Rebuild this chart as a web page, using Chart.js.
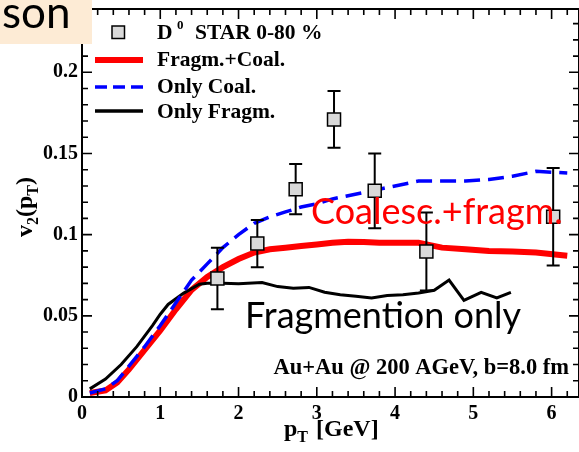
<!DOCTYPE html>
<html>
<head>
<meta charset="utf-8">
<script src="https://cdn.jsdelivr.net/npm/chart.js@4.4.0/dist/chart.umd.min.js"></script>
<style>
html, body { margin: 0; padding: 0; background: #fff; }
</style>
</head>
<body>
<canvas id="v2" width="579" height="452"></canvas>
<script>
// STAR D0 v2, 0-80 %
const starPt  = [1.73, 2.24, 2.73, 3.22, 3.74, 4.40, 6.02];
const starV2  = [0.073, 0.0945, 0.128, 0.171, 0.127, 0.0896, 0.111];
const starErr = [0.019, 0.0145, 0.0155, 0.0175, 0.023, 0.024, 0.030];

// Fragm.+Coal.
const ptBoth = [0.1, 0.3, 0.45, 0.6, 0.8, 1.0, 1.2, 1.4, 1.6, 1.8, 2.0, 2.2, 2.4, 2.6, 2.8, 3.0, 3.2, 3.4, 3.6, 3.8, 4.0, 4.3, 4.6, 4.9, 5.2, 5.5, 5.8, 6.2];
const v2Both = [0.0025, 0.004, 0.009, 0.017, 0.029, 0.041, 0.054, 0.066, 0.074, 0.080, 0.085, 0.089, 0.091, 0.092, 0.093, 0.094, 0.095, 0.0957, 0.0955, 0.095, 0.095, 0.095, 0.092, 0.091, 0.090, 0.0896, 0.089, 0.087];

// Only Coal.
const ptCoal = [0.1, 0.3, 0.45, 0.6, 0.8, 1.0, 1.2, 1.4, 1.6, 1.8, 2.0, 2.2, 2.4, 2.6, 2.8, 3.0, 3.2, 3.4, 3.6, 3.8, 4.0, 4.3, 4.6, 4.9, 5.2, 5.5, 5.8, 6.2];
const v2Coal = [0.0025, 0.005, 0.010, 0.019, 0.031, 0.044, 0.058, 0.072, 0.082, 0.092, 0.100, 0.107, 0.111, 0.114, 0.117, 0.119, 0.122, 0.124, 0.126, 0.128, 0.130, 0.133, 0.133, 0.133, 0.134, 0.136, 0.139, 0.138];

// Only Fragm.
const ptFrag = [0.1, 0.3, 0.5, 0.7, 0.9, 1.0, 1.1, 1.3, 1.5, 1.6, 1.8, 2.0, 2.3, 2.5, 2.7, 2.9, 3.1, 3.3, 3.5, 3.7, 3.9, 4.1, 4.3, 4.5, 4.69, 4.88, 5.1, 5.3, 5.48];
const v2Frag = [0.005, 0.011, 0.020, 0.031, 0.044, 0.051, 0.057, 0.064, 0.0695, 0.070, 0.070, 0.0698, 0.0705, 0.068, 0.067, 0.0675, 0.0645, 0.063, 0.062, 0.061, 0.0625, 0.063, 0.064, 0.0657, 0.072, 0.0595, 0.0645, 0.061, 0.0645];

const xTicks = [0, 1, 2, 3, 4, 5, 6];
const yTicks = [0, 0.05, 0.1, 0.15, 0.2];

const SERIF = '"Liberation Serif", "Times New Roman", serif';
const toXY = (xs, ys) => xs.map((x, i) => ({ x: x, y: ys[i] }));

// keep the plot box fixed: no extra room for overhanging tick labels
const noPad = s => { s.paddingLeft = s.paddingRight = s.paddingTop = s.paddingBottom = 0; };

const decorations = {
    id: 'decorations',
    beforeDatasetDraw(chart, args) {
        if (args.index !== 0) return;
        // error bars sit under the squares
        const ctx = chart.ctx;
        const xs = chart.scales.x, ys = chart.scales.y;
        ctx.save();
        ctx.strokeStyle = '#000';
        ctx.lineWidth = 2;
        starPt.forEach((pt, i) => {
            const px = xs.getPixelForValue(pt);
            const hi = ys.getPixelForValue(starV2[i] + starErr[i]);
            const lo = ys.getPixelForValue(starV2[i] - starErr[i]);
            ctx.beginPath();
            ctx.moveTo(px, hi); ctx.lineTo(px, lo);
            ctx.moveTo(px - 6.5, hi); ctx.lineTo(px + 6.5, hi);
            ctx.moveTo(px - 6.5, lo); ctx.lineTo(px + 6.5, lo);
            ctx.stroke();
        });
        ctx.restore();
    },
    afterDraw(chart) {
        const ctx = chart.ctx;
        const a = chart.chartArea;
        const xs = chart.scales.x, ys = chart.scales.y;
        ctx.save();

        // frame with inward ticks on all four sides
        ctx.strokeStyle = '#000';
        ctx.lineWidth = 2;
        ctx.strokeRect(a.left, a.top, a.right - a.left, a.bottom - a.top);
        ctx.lineWidth = 1.6;
        ctx.beginPath();
        for (let i = 0; i <= 31; i++) {
            const px = xs.getPixelForValue(i * 0.2);
            const len = i % 5 === 0 ? 10 : 6;
            ctx.moveTo(px, a.bottom); ctx.lineTo(px, a.bottom - len);
            ctx.moveTo(px, a.top); ctx.lineTo(px, a.top + len);
        }
        for (let i = 0; i <= 23; i++) {
            const py = ys.getPixelForValue(i * 0.01);
            const len = i % 5 === 0 ? 10 : 6;
            ctx.moveTo(a.left, py); ctx.lineTo(a.left + len, py);
            ctx.moveTo(a.right, py); ctx.lineTo(a.right - len, py);
        }
        ctx.stroke();

        // axis titles
        ctx.fillStyle = '#000';
        ctx.textBaseline = 'alphabetic';
        ctx.textAlign = 'left';
        const big = 'bold 24px ' + SERIF, small = 'bold 16px ' + SERIF;
        let x = 284;
        const by = 436;
        ctx.font = big; ctx.fillText('p', x, by); x += ctx.measureText('p').width;
        ctx.font = small; ctx.fillText('T', x, by + 6); x += ctx.measureText('T').width + 8;
        ctx.font = big; ctx.fillText('[GeV]', x, by);

        ctx.save();
        ctx.translate(32, 237);
        ctx.rotate(-Math.PI / 2);
        let t = 0;
        ctx.font = big; ctx.fillText('v', t, 0); t += ctx.measureText('v').width;
        ctx.font = small; ctx.fillText('2', t, 6); t += ctx.measureText('2').width;
        ctx.font = big; ctx.fillText('(p', t, 0); t += ctx.measureText('(p').width;
        ctx.font = small; ctx.fillText('T', t, 6); t += ctx.measureText('T').width;
        ctx.font = big; ctx.fillText(')', t, 0);
        ctx.restore();

        // legend
        ctx.fillStyle = '#d9d9d9';
        ctx.fillRect(112, 26, 12.5, 12.5);
        ctx.lineWidth = 1.5;
        ctx.strokeRect(112, 26, 12.5, 12.5);
        ctx.fillStyle = '#000';
        ctx.font = 'bold 21.5px ' + SERIF;
        ctx.fillText('D', 157, 39);
        ctx.font = 'bold 13px ' + SERIF;
        ctx.fillText('0', 177, 29);
        ctx.font = 'bold 21.5px ' + SERIF;
        ctx.fillText('STAR 0-80 %', 195, 39);
        ctx.fillText('Fragm.+Coal.', 157, 66);
        ctx.fillText('Only Coal.', 157, 93);
        ctx.fillText('Only Fragm.', 157, 118);

        ctx.lineCap = 'butt';
        ctx.strokeStyle = '#ff0000'; ctx.lineWidth = 6;
        ctx.beginPath(); ctx.moveTo(95, 60); ctx.lineTo(143, 60); ctx.stroke();
        ctx.strokeStyle = '#0000ff'; ctx.lineWidth = 3.5;
        ctx.setLineDash([12, 6]);
        ctx.beginPath(); ctx.moveTo(95, 87); ctx.lineTo(143, 87); ctx.stroke();
        ctx.setLineDash([]);
        ctx.strokeStyle = '#000'; ctx.lineWidth = 3.5;
        ctx.beginPath(); ctx.moveTo(95, 111); ctx.lineTo(143, 111); ctx.stroke();

        // collision system
        ctx.textAlign = 'right';
        ctx.font = 'bold 22.5px ' + SERIF;
        ctx.fillText('Au+Au @ 200 AGeV, b=8.0 fm', 569, 374);

        // slide annotations
        ctx.textAlign = 'left';
        ctx.font = '36px Lato, sans-serif';
        ctx.fillStyle = '#ff0000';
        ctx.fillText('Coalesc.+fragm.', 311, 224);
        ctx.fillStyle = '#000';
        ctx.fillText('Fragmention only', 245, 328);

        ctx.fillStyle = '#fdebd5';
        ctx.fillRect(0, 0, 92, 44);
        ctx.fillStyle = '#000';
        ctx.font = '44px Lato, sans-serif';
        ctx.fillText('son', 2, 28);

        ctx.restore();
    }
};

new Chart(document.getElementById('v2'), {
    type: 'line',
    data: {
        datasets: [
            {
                label: 'D0 STAR 0-80 %',
                data: toXY(starPt, starV2),
                showLine: false,
                pointStyle: 'rect',
                pointRadius: 9.2,
                pointBackgroundColor: '#d9d9d9',
                pointBorderColor: '#000',
                pointBorderWidth: 1.5
            },
            {
                label: 'Only Coal.',
                data: toXY(ptCoal, v2Coal),
                borderColor: '#0000ff',
                borderWidth: 3.5,
                borderDash: [16, 8],
                pointRadius: 0,
                tension: 0
            },
            {
                label: 'Only Fragm.',
                data: toXY(ptFrag, v2Frag),
                borderColor: '#000',
                borderWidth: 3,
                pointRadius: 0,
                tension: 0
            },
            {
                label: 'Fragm.+Coal.',
                data: toXY(ptBoth, v2Both),
                borderColor: '#ff0000',
                borderWidth: 6,
                pointRadius: 0,
                tension: 0
            }
        ]
    },
    options: {
        responsive: false,
        animation: false,
        devicePixelRatio: 1,
        layout: { autoPadding: false, padding: { top: 9, left: 0, right: 0, bottom: 0 } },
        plugins: {
            legend: { display: false },
            tooltip: { enabled: false }
        },
        scales: {
            x: {
                type: 'linear',
                min: 0,
                max: 6.35,
                grid: { display: false, drawTicks: false },
                border: { display: false },
                afterBuildTicks: s => { s.ticks = xTicks.map(v => ({ value: v })); },
                afterFit: s => { s.height = 55; noPad(s); },
                ticks: {
                    autoSkip: false,
                    maxRotation: 0,
                    padding: 5,
                    color: '#000',
                    font: { family: SERIF, size: 20, weight: 'bold' },
                    callback: v => String(v)
                }
            },
            y: {
                min: 0,
                max: 0.239,
                grid: { display: false, drawTicks: false },
                border: { display: false },
                afterBuildTicks: s => { s.ticks = yTicks.map(v => ({ value: v })); },
                afterFit: s => { s.width = 82; noPad(s); },
                ticks: {
                    padding: 4,
                    color: '#000',
                    font: { family: SERIF, size: 20, weight: 'bold' },
                    callback: v => String(+v.toFixed(2))
                }
            }
        }
    },
    plugins: [decorations]
});
</script>
</body>
</html>
